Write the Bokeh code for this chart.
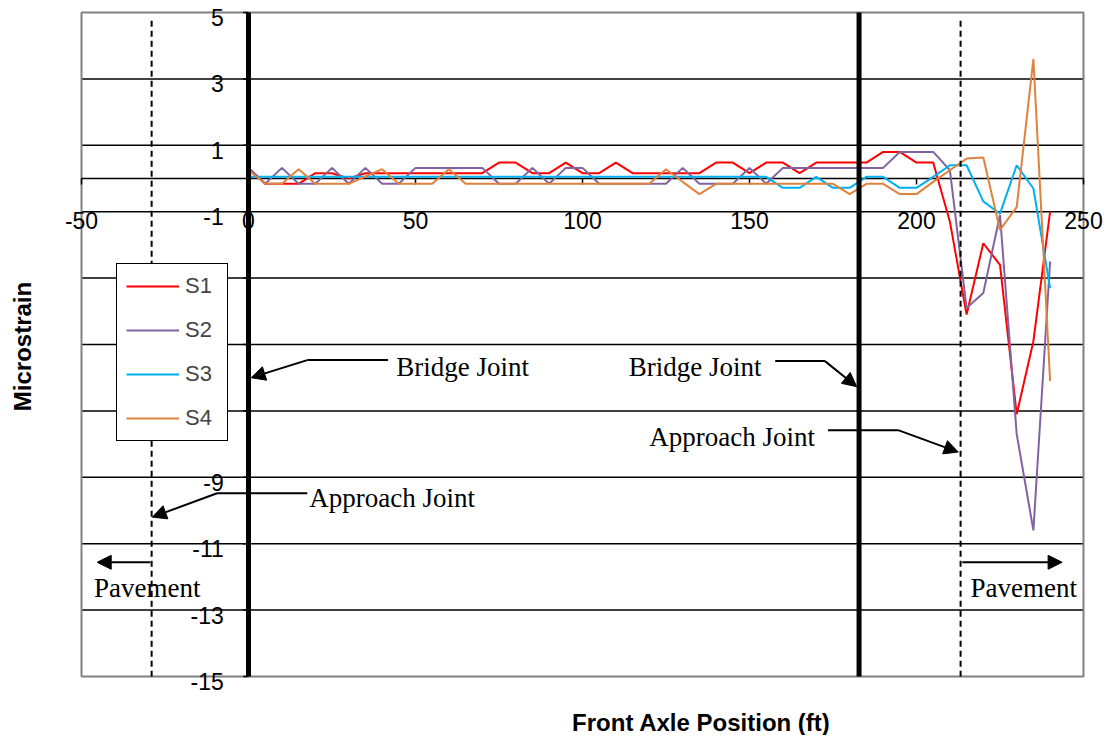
import math
from bokeh.plotting import figure
from bokeh.models import Range1d, Legend, LegendItem, Arrow, NormalHead
from bokeh.core.properties import value
from bokeh.embed import file_html
from bokeh.resources import INLINE

# ---------------- data ----------------
x_pos = [0, 5, 10, 15, 20, 25, 30, 35, 40, 45, 50, 55, 60, 65, 70, 75, 80, 85, 90, 95,
         100, 105, 110, 115, 120, 125, 130, 135, 140, 145, 150, 155, 160, 165, 170, 175,
         180, 185, 190, 195, 200, 205, 210, 215, 220, 225, 230, 235, 240]

s1 = [0.32, -0.16, -0.16, -0.16, 0.16, 0.16, 0.0, 0.16, 0.16, 0.16, 0.16, 0.16, 0.16, 0.16,
      0.16, 0.48, 0.48, 0.16, 0.16, 0.48, 0.16, 0.16, 0.48, 0.16, 0.16, 0.16, 0.16, 0.16,
      0.48, 0.48, 0.16, 0.48, 0.48, 0.16, 0.48, 0.48, 0.48, 0.48, 0.8, 0.8, 0.48, 0.48,
      -1.3, -4.1, -1.95, -2.6, -7.1, -4.9, -1.0]

s2 = [0.32, -0.16, 0.32, -0.16, -0.16, 0.32, -0.16, 0.32, -0.16, -0.16, 0.32, 0.32, 0.32,
      0.32, 0.32, -0.16, -0.16, 0.32, -0.16, 0.32, 0.32, -0.16, -0.16, -0.16, -0.16, -0.16,
      0.32, -0.16, -0.16, -0.16, 0.32, -0.16, 0.32, 0.32, 0.32, 0.32, 0.32, 0.32, 0.32,
      0.8, 0.8, 0.8, 0.25, -3.9, -3.45, -1.1, -7.7, -10.6, -2.5]

s3 = [0.05] * 31 + [0.05, -0.28, -0.28, 0.05, -0.28, -0.28, 0.05, 0.05, -0.28, -0.28,
                    0.05, 0.4, 0.4, -0.69, -1.06, 0.4, -0.3, -3.3]

s4 = [0.25, -0.16, -0.16, 0.28, -0.16, -0.16, -0.16, 0.06, 0.28, -0.16, -0.16, -0.16, 0.28,
      -0.16, -0.16, -0.16, -0.16, -0.16, -0.16, -0.16, -0.16, -0.16, -0.16, -0.16, -0.16,
      0.28, -0.1, -0.47, -0.16, -0.16, -0.16, -0.16, -0.16, -0.16, -0.16, -0.16, -0.47,
      -0.16, -0.16, -0.47, -0.47, -0.1, 0.25, 0.6, 0.63, -1.55, -0.86, 3.6, -6.1]

series_names = ["S1", "S2", "S3", "S4"]
series_colors = ["#FF0000", "#8064A2", "#00B0F0", "#E0823D"]

x_ticks = [-50, 0, 50, 100, 150, 200, 250]
y_ticks = [5, 3, 1, -1, -3, -5, -7, -9, -11, -13, -15]
grid_y = [3, 1, -1, -3, -5, -7, -9, -11, -13]

bridge_joints = [0, 182.8]
approach_joints = [-29.0, 213.2]

X_MIN, X_MAX, Y_MIN, Y_MAX = -50, 250, -15, 5

# ---------------- figure ----------------
# whole canvas is the frame; plot area (-50..250, -15..5) drawn inside it
W, H = 1105, 735
PX_X = 1002 / 300.0   # px per x unit
PX_Y = 664 / 20.0     # px per y unit
x_lo = X_MIN - 81 / PX_X
x_hi = x_lo + W / PX_X
y_hi = Y_MAX + 12 / PX_Y
y_lo = y_hi - H / PX_Y

p = figure(width=W, height=H, x_range=Range1d(x_lo, x_hi), y_range=Range1d(y_lo, y_hi),
           output_backend="svg", toolbar_location=None,
           min_border=0, min_border_left=0, min_border_right=0,
           min_border_top=0, min_border_bottom=0)
p.axis.visible = False
p.grid.visible = False
p.outline_line_color = None
p.background_fill_color = "white"
p.border_fill_color = "white"

# gridlines
p.segment(x0=[X_MIN] * len(grid_y), y0=grid_y, x1=[X_MAX] * len(grid_y), y1=grid_y,
          line_color="black", line_width=1.5)
# plot area border
p.quad(left=[X_MIN], right=[X_MAX], bottom=[Y_MIN], top=[Y_MAX], fill_color=None,
       line_color="#808080", line_width=2)

# x axis line at y = 0 with tick marks
p.segment(x0=[X_MIN], y0=[0], x1=[X_MAX], y1=[0], line_color="black", line_width=1.5)
p.segment(x0=x_ticks, y0=[0] * len(x_ticks), x1=x_ticks, y1=[-0.18] * len(x_ticks),
          line_color="black", line_width=1.5)
# y axis ticks at x = 0
p.segment(x0=[-1.6] * len(y_ticks), y0=y_ticks, x1=[0] * len(y_ticks), y1=y_ticks,
          line_color="black", line_width=1.5)

# tick labels (drawn before legend so the legend box covers the hidden ones)
p.text(x=x_ticks, y=[-1.265] * len(x_ticks), text=[str(v) for v in x_ticks],
       text_align="center", text_baseline="middle", text_font=value("Liberation Sans"),
       text_font_size="23px", text_color="black")
p.text(x=[-7.4] * len(y_ticks), y=[v - 0.15 for v in y_ticks], text=[str(v) for v in y_ticks],
       text_align="right", text_baseline="middle", text_font=value("Liberation Sans"),
       text_font_size="23px", text_color="black")

# series
renderers = []
for name, ys, col in zip(series_names, [s1, s2, s3, s4], series_colors):
    r = p.line(x_pos, ys, line_color=col, line_width=2)
    renderers.append(r)

# joints (drawn over the series)
p.segment(x0=bridge_joints, y0=[Y_MIN, Y_MIN], x1=bridge_joints, y1=[Y_MAX, Y_MAX],
          line_color="black", line_width=5)
p.segment(x0=approach_joints, y0=[4.75, 4.75], x1=approach_joints, y1=[Y_MIN, Y_MIN],
          line_color="black", line_width=2, line_dash="6 4")

# annotations: connector lines + arrows
conn_lines = [
    ([41.8, 17.6], [-5.47, -5.47]),
    ([157.7, 172.6], [-5.5, -5.5]),
    ([173.5, 194.5], [-7.58, -7.58]),
    ([17.6, -9.4], [-9.48, -9.48]),
]
for xs, ys in conn_lines:
    p.line(xs, ys, line_color="black", line_width=2)

arrows = [
    (17.6, -5.47, 0.8, -6.0),
    (172.6, -5.5, 182.1, -6.27),
    (194.5, -7.58, 212.5, -8.24),
    (-9.4, -9.48, -28.8, -10.2),
    (-29.4, -11.56, -45.3, -11.56),
    (213.7, -11.56, 243.6, -11.56),
]
for x0, y0, x1, y1 in arrows:
    p.add_layout(Arrow(x_start=x0, y_start=y0, x_end=x1, y_end=y1, line_color="black",
                       line_width=2,
                       end=NormalHead(size=14, fill_color="black", line_color="black")))

p.text(x=[64.1, 133.7, 144.8, 43.0, -30.3, 232.1],
       y=[-5.68, -5.68, -7.79, -9.63, -12.34, -12.34],
       text=["Bridge Joint", "Bridge Joint", "Approach Joint", "Approach Joint",
             "Pavement", "Pavement"],
       text_align="center", text_baseline="middle", text_font=value("Liberation Serif"),
       text_font_size="27px", text_color="black")

# axis titles
p.text(x=[135.6], y=[-16.39], text=["Front Axle Position (ft)"], text_align="center",
       text_baseline="middle", text_font=value("Liberation Sans"), text_font_style="bold",
       text_font_size="24px", text_color="black")
p.text(x=[-67.7], y=[-5.06], text=["Microstrain"], angle=math.pi / 2, text_align="center",
       text_baseline="middle", text_font=value("Liberation Sans"), text_font_style="bold",
       text_font_size="24px", text_color="black")

# legend
legend = Legend(items=[LegendItem(label=n, renderers=[r]) for n, r in zip(series_names, renderers)],
                location=(116, H - 441))
legend.border_line_color = "black"
legend.border_line_alpha = 1.0
legend.border_line_width = 1.5
legend.background_fill_color = "white"
legend.background_fill_alpha = 1.0
legend.label_text_font = "Liberation Sans"
legend.label_text_font_size = "22px"
legend.glyph_width = 53
legend.glyph_height = 20
legend.label_height = 20
legend.label_width = 33
legend.spacing = 18
legend.padding = 9
legend.margin = 0
legend.label_standoff = 6
p.add_layout(legend, "center")

open("out.html", "w").write(file_html(p, INLINE))
